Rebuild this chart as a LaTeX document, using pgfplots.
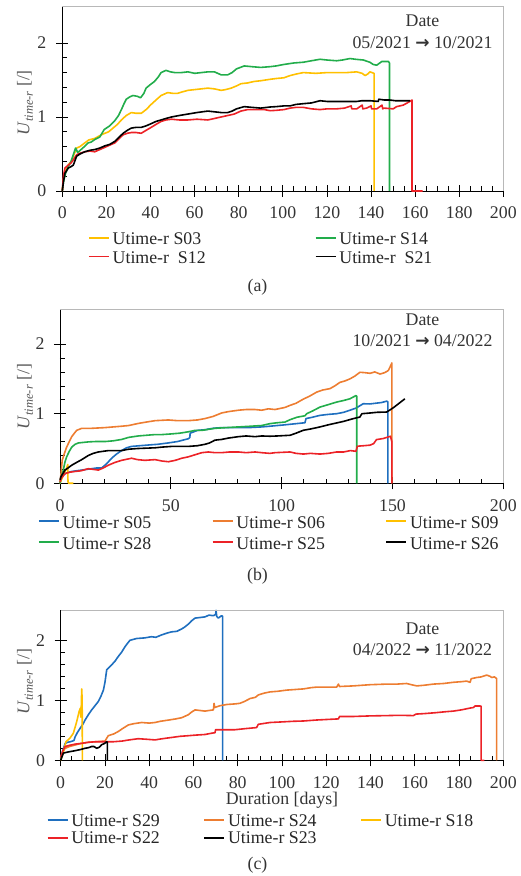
\documentclass[border=0pt]{standalone}
\usepackage{fontspec}
\setmainfont{Liberation Serif}
\newfontfamily\arrowfont{DejaVu Sans}
\usepackage{pgfplots}
\pgfplotsset{compat=1.18}
\definecolor{cY}{HTML}{FFC000}
\definecolor{cG}{HTML}{22AD4B}
\definecolor{cR}{HTML}{EC2227}
\definecolor{cB}{HTML}{1F6FBF}
\definecolor{cO}{HTML}{ED7D31}
\newcommand\arr{{\arrowfont\bfseries\fontsize{17}{20}\selectfont →}}
\newcommand\lgA[1]{\makebox[205pt][l]{\hspace{3pt}\rule[-5pt]{0pt}{21pt}#1}}
\newcommand\lgB[1]{\makebox[152pt][l]{\hspace{3pt}\rule[-7pt]{0pt}{25pt}#1}}
\newcommand\lgC[1]{\makebox[135pt][l]{\hspace{3pt}\rule[-4.2pt]{0pt}{19.3pt}#1}}
\newcommand\ylab{\textit{U}\raisebox{-3.5pt}{\fontsize{12.5}{13}\selectfont\textit{time-r}} [/]}
\pgfplotsset{
  panel/.style={
    scale only axis, anchor=south west, clip=false,
    xmin=0, xmax=200, ymin=0, ymax=2.5,
    ytick={0,1,2}, minor y tick num=4,
    axis x line*=bottom, axis y line*=left,
    axis line style={-, black, line width=0.8pt},
    tick align=inside, major tick length=12pt, minor tick length=4.5pt,
    tick style={black, line width=0.7pt},
    every major x tick/.append style={yshift=-6pt},
    every major y tick/.append style={xshift=-6pt},
    /pgf/number format/assume math mode=true,
    xticklabel style={anchor=center, yshift=-22pt, text=black!80},
    yticklabel style={anchor=center, xshift=-20.5pt, text=black!80},
    legend image code/.code={\draw[##1, line width=1.7pt] (0pt,0pt) -- (20pt,0pt);},
    legend cell align=left,
    every axis plot/.append style={line width=1.6pt, line join=round},
    after end axis/.code={\draw[black!28, line width=0.8pt] (rel axis cs:0,1) -- (rel axis cs:1,1) -- (rel axis cs:1,0);},
  },
  lgstyle/.style 2 args={legend style={at={(#1,#2)}, anchor=north west, draw=none, fill=none,
    inner sep=0pt, outer sep=0pt, column sep=0pt, row sep=0pt,
    cells={anchor=west}, nodes={inner sep=0pt, text=black!85}}},
}
\begin{document}
\fontsize{17.8}{21}\selectfont
\begin{tikzpicture}
\path[use as bounding box] (0pt,0pt) rectangle (521pt,876pt);
% ---------------- (a)
\begin{axis}[panel, at={(62.3pt,685pt)}, width=441pt, height=185pt,
  xtick={0,20,...,200}, minor x tick num=3,
  every axis y label/.style={at={(axis description cs:-0.0846,0.476)}, rotate=90, anchor=center, text=black!65},
  ylabel={\ylab},
  lgstyle={0.0583}{-0.2027}, legend columns=2]
\addplot[cY] coordinates {(0,0) (0.5,0.15) (1.5,0.27) (2.7,0.35) (4,0.40) (5,0.47) (6.5,0.58) (8,0.60) (10.2,0.65) (12,0.69) (14.7,0.71) (16.5,0.74) (18.5,0.77) (21,0.80) (23,0.85) (25,0.90) (26.8,0.96) (29,1.02) (31.3,1.06) (33.5,1.05) (35.8,1.05) (38,1.10) (40.3,1.17) (42.5,1.23) (44.8,1.29) (47.8,1.33) (50,1.32) (52.3,1.32) (54.5,1.34) (57,1.36) (60,1.37) (63,1.38) (66,1.39) (69,1.38) (72,1.36) (74,1.37) (76.6,1.39) (79,1.42) (81,1.45) (84,1.46) (87,1.48) (90,1.49) (94.4,1.51) (97,1.52) (100.5,1.53) (103.3,1.56) (106,1.58) (109.3,1.60) (115,1.59) (120,1.60) (124.4,1.60) (129,1.60) (133.5,1.61) (136,1.59) (137.3,1.56) (138.5,1.58) (139.5,1.61) (141.4,1.59) (141.4,0)};
\addlegendentry{\lgA{Utime-r S03}}
\addplot[cG] coordinates {(0,0) (0.5,0.12) (1.5,0.24) (2.7,0.33) (4,0.40) (5,0.49) (6,0.58) (7,0.52) (8.5,0.56) (10,0.60) (11.7,0.65) (13,0.66) (15,0.70) (17,0.73) (19,0.83) (21.5,0.88) (23.8,0.95) (25.5,1.02) (26.8,1.10) (28,1.18) (29,1.24) (30.5,1.27) (32,1.29) (34,1.28) (35.5,1.26) (37,1.32) (38,1.39) (40,1.44) (41.8,1.48) (43.5,1.54) (44.8,1.60) (47,1.63) (49,1.61) (51,1.60) (54,1.60) (57,1.61) (60,1.59) (63,1.60) (66,1.61) (69,1.61) (72,1.57) (75,1.57) (77,1.60) (79,1.65) (82.5,1.69) (86,1.68) (90,1.67) (94.2,1.68) (97,1.69) (100.5,1.71) (105,1.73) (109.3,1.74) (113,1.76) (116.9,1.78) (120,1.77) (124.4,1.76) (127,1.77) (130.5,1.79) (133,1.78) (136.5,1.77) (139.5,1.74) (141,1.71) (142.6,1.70) (144.9,1.75) (147.9,1.75) (148.4,1.73) (148.4,0)};
\addlegendentry{\lgA{Utime-r S14}}
\addplot[cR] coordinates {(0,0) (0.5,0.2) (1.2,0.31) (2.7,0.35) (4,0.38) (5,0.42) (6.5,0.49) (8,0.51) (10.2,0.53) (12.5,0.54) (14.7,0.53) (17,0.56) (19.3,0.59) (21.5,0.62) (23.8,0.65) (25.5,0.70) (27.6,0.76) (29.5,0.78) (31.3,0.79) (33.5,0.79) (35.8,0.78) (38,0.82) (40.3,0.86) (42.5,0.90) (44.8,0.94) (47,0.96) (49.5,0.97) (53,0.96) (57,0.96) (61,0.97) (66,0.96) (69,0.98) (72,1.00) (75,1.02) (78,1.04) (81,1.08) (84,1.10) (88,1.10) (91.7,1.10) (94.2,1.085) (97,1.09) (100.5,1.10) (103.3,1.12) (106,1.13) (109.3,1.13) (113,1.11) (116.9,1.10) (120,1.11) (124.4,1.11) (128,1.12) (131,1.15) (131.3,1.11) (133.5,1.11) (136,1.16) (136.3,1.11) (138,1.12) (140,1.15) (140.3,1.11) (142.6,1.11) (145,1.16) (145.3,1.11) (146,1.12) (150.1,1.11) (151.6,1.14) (154.6,1.16) (157.6,1.21) (158.6,1.23) (158.6,0) (163.4,0)};
\addlegendentry{\lgA{Utime-r\ \ S12}}
\addplot[black] coordinates {(0,0) (0.5,0.12) (1.2,0.24) (2.7,0.31) (4,0.33) (5,0.35) (6.5,0.47) (8,0.50) (10.2,0.53) (12.5,0.55) (14.7,0.56) (17,0.58) (19.3,0.61) (21.5,0.63) (23.8,0.67) (25.5,0.72) (27.6,0.78) (29.5,0.82) (31.3,0.85) (33.5,0.86) (35.8,0.86) (38,0.88) (40.3,0.91) (42.5,0.94) (44.8,0.96) (47,0.98) (49.5,1.00) (53,1.02) (57,1.04) (61,1.06) (66,1.08) (69,1.07) (72,1.06) (75,1.06) (77,1.08) (79,1.11) (82.5,1.14) (86,1.13) (90,1.12) (94.2,1.135) (97,1.14) (100.5,1.15) (103.3,1.15) (106,1.17) (109.3,1.18) (113,1.19) (116.9,1.22) (120,1.21) (124.4,1.21) (128,1.21) (133.5,1.21) (136,1.22) (139.5,1.22) (143.3,1.21) (143.5,1.24) (146,1.23) (148.4,1.23) (151,1.22) (154.6,1.22) (157.6,1.22)};
\addlegendentry{\lgA{Utime-r\ \ S21}}
\node[anchor=center, text=black!80] at (rel axis cs:0.8168,0.9205) {Date};
\node[anchor=center, text=black!80] at (rel axis cs:0.8168,0.8016) {05/2021 \arr\ 10/2021};
\end{axis}
\node[text=black!80] at (257.5pt,589pt) {(a)};
% ---------------- (b)
\begin{axis}[panel, at={(60pt,392.7pt)}, width=443.3pt, height=174pt,
  xtick={0,50,...,200}, minor x tick num=4,
  yticklabel style={xshift=0.5pt},
  every axis y label/.style={at={(axis description cs:-0.079,0.498)}, rotate=90, anchor=center, text=black!65},
  ylabel={\ylab},
  lgstyle={-0.0496}{-0.158}, legend columns=3]
\addplot[cB] coordinates {(0,0) (0.5,0.06) (1.5,0.12) (3,0.15) (5.3,0.17) (7.5,0.18) (9.8,0.19) (12,0.20) (14.3,0.21) (16.5,0.22) (18.8,0.22) (21,0.28) (23.3,0.36) (25.5,0.42) (27.8,0.47) (30,0.51) (32.3,0.53) (36,0.54) (39.8,0.55) (44,0.56) (48.9,0.58) (53,0.60) (57.9,0.64) (58.6,0.66) (58.7,0.72) (62,0.76) (65.4,0.77) (69,0.79) (72.9,0.80) (76,0.80) (80.5,0.80) (85,0.80) (91,0.81) (94.7,0.82) (98,0.83) (101.5,0.84) (103.8,0.848) (107.5,0.86) (110.5,0.87) (111,0.93) (114,0.95) (117.3,0.976) (121,0.99) (124.8,1.0) (128,1.02) (130.8,1.05) (133.5,1.08) (136.8,1.143) (139.8,1.14) (142.8,1.152) (145,1.16) (147.4,1.18) (147.9,1.17) (147.9,0)};
\addlegendentry{\lgB{Utime-r S05}}
\addplot[cO] coordinates {(0,0) (0.5,0.15) (1,0.33) (2,0.43) (3,0.52) (4.2,0.60) (5.3,0.67) (6.5,0.72) (7.5,0.76) (9.8,0.79) (14.3,0.79) (20.3,0.80) (24,0.81) (27.8,0.82) (31,0.83) (35.3,0.86) (39,0.88) (42.9,0.90) (48.9,0.91) (53,0.90) (57.9,0.90) (62,0.91) (65.4,0.93) (69,0.96) (72.9,1.01) (76,1.03) (80.5,1.05) (84,1.06) (88,1.06) (91,1.05) (94,1.07) (97,1.06) (101.5,1.09) (103.8,1.12) (106.5,1.15) (109.8,1.21) (112.5,1.25) (115.8,1.31) (118.5,1.34) (121.8,1.36) (124,1.40) (126.3,1.45) (128.5,1.47) (130.8,1.50) (133,1.54) (135.3,1.595) (137.5,1.59) (139.9,1.58) (142,1.60) (144.4,1.57) (146.5,1.59) (148.1,1.62) (149.5,1.71) (149.7,1.73) (149.7,0)};
\addlegendentry{\lgB{Utime-r S06}}
\addplot[cY] coordinates {(0,0) (1,0.08) (2,0.15) (3,0.22) (3.5,0.27) (3.6,0.02) (4,0) (6,0)};
\addlegendentry{\lgB{Utime-r S09}}
\addplot[cG] coordinates {(0,0) (0.5,0.08) (1.5,0.19) (2.2,0.30) (3,0.38) (4.2,0.46) (5.3,0.52) (6.8,0.56) (8.3,0.58) (12.8,0.595) (16,0.60) (20.3,0.60) (24,0.61) (27.8,0.63) (31,0.66) (35.3,0.68) (39,0.69) (42.9,0.70) (46,0.70) (50.4,0.71) (54,0.72) (57.9,0.74) (60.9,0.76) (64,0.76) (69.9,0.79) (75,0.80) (80.5,0.81) (86,0.82) (91,0.83) (94.7,0.857) (98,0.87) (101.5,0.88) (103.8,0.914) (107,0.95) (110.5,0.97) (111.3,1.0) (114,1.04) (117.3,1.095) (121,1.13) (124.8,1.167) (128,1.19) (130.8,1.214) (133.5,1.26) (133.9,1.25) (133.9,0)};
\addlegendentry{\lgB{Utime-r S28}}
\addplot[cR] coordinates {(0,0.02) (0.5,0.07) (2.3,0.14) (4.5,0.16) (6.8,0.17) (9.5,0.18) (12.8,0.21) (15,0.20) (17.3,0.19) (19.5,0.22) (21.8,0.26) (24.8,0.30) (27.8,0.33) (32.3,0.36) (35,0.34) (38.3,0.33) (42.9,0.34) (46,0.32) (48.9,0.31) (52,0.33) (54.9,0.36) (57.9,0.38) (60.9,0.41) (64,0.44) (66.9,0.45) (69.9,0.44) (72.9,0.44) (76.5,0.45) (80.5,0.45) (84,0.44) (88,0.45) (91,0.44) (94.7,0.43) (97,0.44) (103.8,0.45) (106.5,0.43) (109.8,0.42) (113,0.43) (117.3,0.42) (121,0.43) (124.8,0.45) (128,0.45) (131,0.47) (133.5,0.46) (134.2,0.533) (137,0.54) (139.9,0.548) (141.5,0.57) (142.8,0.628) (145.8,0.643) (147.5,0.66) (149.1,0.676) (149.7,0.60) (149.7,0)};
\addlegendentry{\lgB{Utime-r S25}}
\addplot[black] coordinates {(0,0.05) (0.5,0.1) (2.3,0.19) (5.3,0.26) (7.5,0.30) (9.8,0.34) (12.8,0.40) (15,0.43) (17.3,0.45) (21.8,0.47) (27.8,0.47) (31,0.49) (35.3,0.50) (42.9,0.51) (46,0.52) (50.4,0.53) (57.9,0.53) (62,0.54) (65.4,0.56) (67.5,0.58) (69.9,0.62) (72.9,0.63) (76,0.65) (80.5,0.67) (84,0.68) (88,0.67) (91,0.68) (94.7,0.676) (98,0.68) (103.8,0.69) (106.5,0.72) (109.8,0.762) (113,0.78) (117.3,0.81) (121,0.84) (124.8,0.867) (128,0.89) (132.3,0.929) (135.3,0.952) (136.2,1.00) (139.9,1.01) (143,1.02) (147.4,1.024) (150.4,1.086) (153,1.15) (155.6,1.214)};
\addlegendentry{\lgB{Utime-r S26}}
\node[anchor=center, text=black!80] at (rel axis cs:0.8177,0.9425) {Date};
\node[anchor=center, text=black!80] at (rel axis cs:0.8177,0.8195) {10/2021 \arr\ 04/2022};
\end{axis}
\node[text=black!80] at (257.5pt,300pt) {(b)};
% ---------------- (c)
\begin{axis}[panel, at={(60.7pt,115.7pt)}, width=442.6pt, height=150pt,
  xtick={0,20,...,200}, minor x tick num=3,
  yticklabel style={xshift=0.5pt},
  every axis y label/.style={at={(axis description cs:-0.0807,0.524)}, rotate=90, anchor=center, text=black!65},
  ylabel={\ylab},
  xlabel={Duration [days]},
  every axis x label/.style={at={(axis description cs:0.5,-0.2647)}, anchor=center, text=black!80},
  lgstyle={-0.0316}{-0.338}, legend columns=3]
\addplot[cB] coordinates {(0,0.03) (0.75,0.14) (2,0.28) (3,0.30) (4.5,0.31) (6,0.33) (6.5,0.39) (7.5,0.46) (8.7,0.53) (10,0.60) (11,0.67) (12.5,0.76) (14,0.84) (15.5,0.91) (17,0.98) (18.2,1.07) (19.3,1.17) (20,1.30) (20.8,1.51) (23,1.59) (24.5,1.65) (26,1.73) (27.5,1.80) (29,1.89) (30.2,1.95) (31.3,2.0) (34.3,2.03) (38,2.04) (41,2.06) (43,2.05) (45.6,2.09) (48,2.12) (50,2.14) (52.5,2.15) (54.7,2.19) (56,2.22) (57.7,2.27) (59,2.32) (60.7,2.37) (63,2.38) (65.2,2.39) (67,2.42) (69,2.41) (70,2.43) (70.2,2.5) (70.5,2.40) (71.2,2.37) (72.7,2.41) (73.2,2.40) (73.2,0)};
\addlegendentry{\lgC{Utime-r S29}}
\addplot[cO] coordinates {(0,0.05) (1,0.14) (2,0.20) (4,0.23) (6.5,0.255) (9,0.28) (12.5,0.30) (16,0.31) (20,0.32) (21,0.38) (21.5,0.41) (24,0.44) (26,0.48) (28,0.53) (30.6,0.59) (33,0.61) (36.6,0.63) (40,0.62) (42.6,0.63) (45,0.65) (48.6,0.67) (52,0.69) (54.7,0.71) (57.7,0.76) (59,0.80) (60.7,0.84) (63,0.83) (65.2,0.82) (67,0.83) (69,0.84) (69.3,0.95) (69.6,0.88) (72,0.91) (75,0.93) (78.8,0.94) (81,0.95) (83,0.98) (85.6,1.03) (88,1.05) (89.3,1.09) (92,1.12) (94.6,1.14) (98,1.15) (102.1,1.17) (106,1.18) (109.7,1.19) (113,1.21) (115.7,1.22) (120,1.22) (124.7,1.22) (125.5,1.27) (126,1.23) (132.2,1.24) (139.8,1.26) (147.3,1.27) (152,1.27) (156.3,1.28) (158.5,1.26) (160.9,1.24) (164,1.25) (168.4,1.27) (173,1.28) (177.4,1.30) (181,1.31) (183.4,1.32) (185,1.30) (185.5,1.36) (188,1.38) (190,1.39) (192.5,1.42) (194,1.40) (194.8,1.38) (196,1.39) (196.7,1.37) (197,1.36) (197,0)};
\addlegendentry{\lgC{Utime-r S24}}
\addplot[cY] coordinates {(0,0) (1.2,0.14) (2.4,0.31) (4.2,0.37) (5.7,0.45) (6.5,0.55) (7.2,0.64) (8.3,0.81) (8.9,0.87) (9.1,0.72) (9.3,0.90) (9.5,1.19) (9.7,1.0) (9.8,0)};
\addlegendentry{\lgC{Utime-r S18}}
\addplot[cR] coordinates {(0,0.05) (1,0.16) (2,0.23) (4,0.25) (6.5,0.27) (9,0.28) (12.5,0.30) (16,0.31) (20,0.31) (24,0.31) (27.6,0.32) (31,0.34) (35,0.36) (39,0.35) (42.6,0.34) (46,0.36) (50,0.38) (54,0.40) (57.7,0.41) (61,0.42) (65.2,0.43) (68,0.45) (69.7,0.46) (70,0.51) (75,0.51) (78.8,0.51) (84,0.53) (88.5,0.545) (89.3,0.60) (94.6,0.63) (100,0.64) (105,0.65) (109.7,0.655) (115,0.67) (120,0.68) (125.5,0.69) (126,0.73) (132,0.73) (139.8,0.74) (147.3,0.745) (153,0.75) (159.4,0.745) (160.5,0.77) (165,0.78) (169.9,0.795) (174,0.81) (177.4,0.82) (181,0.84) (184.9,0.87) (186.5,0.88) (187.2,0.905) (189.5,0.905) (190,0.9) (190,0) (191.5,0)};
\addlegendentry{\lgC{Utime-r S22}}
\addplot[black] coordinates {(0,0) (1.2,0.12) (3.5,0.14) (6.5,0.16) (9,0.18) (11,0.20) (12.5,0.21) (14,0.23) (15,0.23) (16.3,0.20) (17.5,0.22) (18.5,0.26) (19.8,0.28) (20.8,0.31) (21.1,0.30) (21.1,0)};
\addlegendentry{\lgC{Utime-r S23}}
\node[anchor=center, text=black!80] at (rel axis cs:0.8175,0.88) {Date};
\node[anchor=center, text=black!80] at (rel axis cs:0.8175,0.7353) {04/2022 \arr\ 11/2022};
\end{axis}
\node[text=black!80] at (257.5pt,11pt) {(c)};
\end{tikzpicture}
\end{document}
